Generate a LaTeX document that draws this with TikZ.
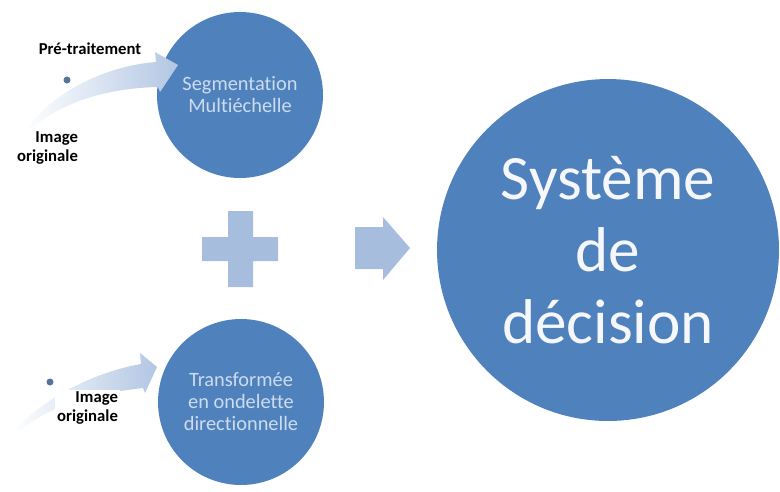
\documentclass[tikz,border=0pt]{standalone}
\usepackage{fontspec}
\setmainfont[Ligatures=NoCommon]{Carlito}
\usepackage{tikz}

\definecolor{circblue}{RGB}{79,129,189}
\definecolor{blockblue}{RGB}{167,189,222}
\definecolor{curveblue}{RGB}{178,198,227}
\definecolor{palete}{RGB}{205,220,236}
\definecolor{dotblue}{RGB}{85,115,155}

\begin{document}
\begin{tikzpicture}[x=0.02cm, y=-0.02cm,
		smallcirc/.style={circle, fill=circblue, minimum size=3.32cm, inner sep=0pt, align=center,
			text=palete, font=\fontsize{11.6}{12.5}\selectfont},
		bigcirc/.style={circle, fill=circblue, minimum size=6.84cm, inner sep=0pt, align=center,
			text=white!94!circblue, font=\fontsize{36}{41}\selectfont},
		lbl/.style={align=right, inner sep=1pt, fill=white, font=\bfseries\fontsize{9.5}{10.8}\selectfont}]
			\useasboundingbox (0,0) rectangle (780,491);
			
			% les trois cercles
			\node[smallcirc] (seg) at (240,95) {Segmentation\\Multiéchelle};
			\node[smallcirc] (ondel) at (241,402) {Transformée\\en ondelette\\directionnelle};
			\node[bigcirc] (decision) at (608,250) {Système\\de\\décision};
			
			% fleches courbes
			\shade[left color=white, right color=curveblue] (25,131)
			.. controls (52,92) and (105,66) .. (156,62) -- (155,52) -- (178,65) -- (160,92) -- (158,87)
			.. controls (108,88) and (55,103) .. (27,134) -- cycle;
			\shade[left color=white, right color=curveblue] (11,434)
			.. controls (42,398) and (95,372) .. (141,364) -- (140,353) -- (157,367) -- (145,393) -- (143,388)
			.. controls (98,393) and (45,405) .. (13,437) -- cycle;
			
			\fill[dotblue] (67,80) circle (3.5);
			\fill[dotblue] (50,382) circle (3.5);
			
			\node[lbl] (pretrait) at (90,49) {Pré-traitement};
			\node[lbl, anchor=east] (orig1) at (80,148) {Image\\originale};
			\node[lbl, anchor=east] (orig2) at (120,408) {Image\\originale};
			
			% plus et fleche
			\coordinate (plus) at (240,249);
			\fill[blockblue, shift={(plus)}] (-38,-12) rectangle (38,12) (-12,-38) rectangle (13,38);
			\coordinate (fl) at (355,248);
			\fill[blockblue, shift={(fl)}] (0,-21) -- (28,-21) -- (28,-31) -- (55,0) -- (28,32) -- (28,21) -- (0,21) -- cycle;
		\end{tikzpicture}
\end{document}
